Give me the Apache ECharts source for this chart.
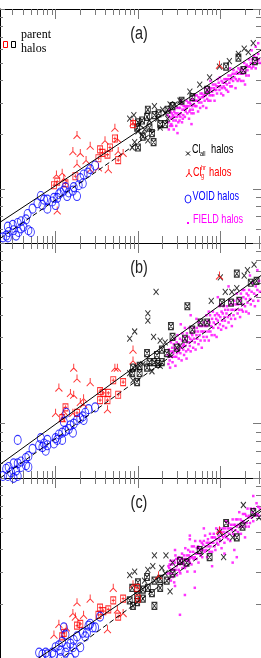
<!DOCTYPE html>
<html><head><meta charset="utf-8">
<script src="https://cdn.jsdelivr.net/npm/echarts@6/dist/echarts.min.js"></script>
<style>html,body{margin:0;padding:0;background:#fff;}#c{width:261px;height:658px;}</style>
</head><body><div id="c"></div>
<script>
// All values are log10 quantities: [log10 M, log10 V]
// ---------- panel (a) ----------
const voidA = [[11.48,2.13],[11.42,2.11],[11.39,2.09],[11.34,2.08],[11.30,2.06],[11.33,2.03],[11.28,2.02],[11.22,2.01],[11.21,1.99],[11.16,1.98],[11.12,2.01],[11.10,1.99],[11.06,1.98],[11.04,1.97],[11.02,1.95],[10.98,1.95],[10.96,1.93],[10.90,1.94],[10.86,1.94],[10.82,1.96],[10.84,1.91],[10.78,1.92],[10.90,1.89],[11.00,1.91],[11.26,1.96],[11.14,1.96],[10.72,1.89],[10.66,1.86],[10.64,1.83],[10.58,1.82],[10.54,1.81],[10.48,1.80],[10.42,1.79],[10.43,1.76],[10.40,1.74],[10.49,1.77],[10.58,1.78],[10.61,1.79],[10.70,1.76],[10.52,1.74],[10.42,1.73],[10.36,1.73],[10.55,1.76],[10.67,1.77]];
const grpA = [[11.72,2.34],[11.26,2.30],[11.42,2.24],[11.21,2.21],[11.30,2.20],[11.37,2.16],[11.26,2.14],[11.08,2.09],[11.01,2.08],[11.10,2.06],[11.42,2.11],[11.64,2.11],[11.52,2.12],[11.82,2.20],[11.76,2.21],[11.02,1.88],[11.60,2.27],[11.75,2.28],[11.94,2.37],[12.99,2.69]];
const pGrpA = [[11.72,2.28],[11.54,2.22],[11.57,2.20],[11.63,2.19],[11.76,2.16],[11.52,2.17],[11.12,2.03],[11.02,2.04],[11.24,2.07],[10.98,2.02],[11.94,2.36],[11.66,2.23]];
const clA = [[13.29,2.78],[13.34,2.76],[13.22,2.75],[12.99,2.68],[12.20,2.46],[12.30,2.44],[12.39,2.47],[11.90,2.39],[11.95,2.41],[11.93,2.23],[11.96,2.26],[12.02,2.36],[12.08,2.33],[12.14,2.38],[12.24,2.39],[12.33,2.42],[12.05,2.30],[12.12,2.27],[12.00,2.32],[12.27,2.34],[12.36,2.39],[12.45,2.47],[12.51,2.49],[12.63,2.54],[12.75,2.58],[12.87,2.62],[13.11,2.71],[13.40,2.81]];
const pClA = [[13.07,2.68],[13.22,2.73],[13.28,2.66],[13.42,2.71],[12.84,2.55],[12.66,2.51],[12.53,2.49],[12.42,2.46],[12.36,2.44],[12.25,2.42],[12.12,2.44],[12.11,2.40],[12.00,2.37],[12.33,2.36],[12.20,2.41],[11.99,2.34],[12.06,2.29],[12.19,2.26],[12.00,2.23],[12.17,2.31],[12.27,2.36],[12.05,2.38],[12.14,2.34]];
const fieldA = [[12.36,2.41],[12.37,2.37],[12.375,2.33],[12.38,2.40],[12.39,2.35],[12.395,2.43],[12.40,2.39],[12.41,2.42],[12.415,2.35],[12.42,2.40],[12.43,2.38],[12.435,2.33],[12.44,2.43],[12.45,2.40],[12.455,2.42],[12.46,2.38],[12.47,2.45],[12.475,2.40],[12.48,2.42],[12.49,2.37],[12.495,2.45],[12.50,2.41],[12.51,2.45],[12.515,2.40],[12.52,2.42],[12.53,2.47],[12.535,2.37],[12.54,2.44],[12.55,2.41],[12.555,2.46],[12.56,2.44],[12.57,2.40],[12.575,2.46],[12.58,2.43],[12.59,2.49],[12.595,2.46],[12.60,2.42],[12.61,2.48],[12.615,2.46],[12.62,2.39],[12.63,2.48],[12.635,2.44],[12.64,2.47],[12.65,2.42],[12.655,2.50],[12.66,2.46],[12.67,2.49],[12.675,2.42],[12.68,2.47],[12.69,2.52],[12.695,2.46],[12.70,2.49],[12.71,2.46],[12.715,2.52],[12.72,2.49],[12.73,2.43],[12.735,2.51],[12.74,2.48],[12.75,2.50],[12.755,2.45],[12.76,2.53],[12.77,2.48],[12.775,2.51],[12.78,2.53],[12.79,2.46],[12.795,2.51],[12.80,2.52],[12.81,2.49],[12.815,2.56],[12.82,2.52],[12.83,2.45],[12.835,2.54],[12.84,2.50],[12.85,2.54],[12.855,2.49],[12.86,2.56],[12.87,2.52],[12.875,2.55],[12.88,2.49],[12.89,2.56],[12.895,2.52],[12.90,2.54],[12.91,2.58],[12.915,2.52],[12.92,2.56],[12.93,2.49],[12.935,2.55],[12.94,2.58],[12.95,2.55],[12.955,2.57],[12.96,2.53],[12.97,2.61],[12.975,2.57],[12.98,2.59],[12.99,2.55],[12.995,2.62],[13.00,2.57],[13.01,2.53],[13.015,2.60],[13.02,2.56],[13.03,2.59],[13.035,2.52],[13.04,2.57],[13.05,2.61],[13.055,2.56],[13.06,2.59],[13.07,2.61],[13.075,2.55],[13.08,2.58],[13.09,2.61],[13.095,2.54],[13.10,2.63],[13.11,2.59],[13.115,2.61],[13.12,2.57],[13.13,2.63],[13.135,2.61],[13.14,2.57],[13.15,2.64],[13.155,2.60],[13.16,2.66],[13.17,2.62],[13.18,2.64],[13.185,2.56],[13.19,2.61],[13.20,2.65],[13.21,2.60],[13.215,2.64],[13.22,2.67],[13.23,2.61],[13.24,2.66],[13.245,2.64],[13.25,2.60],[13.26,2.67],[13.27,2.64],[13.275,2.66],[13.28,2.60],[13.29,2.70],[13.30,2.65],[13.31,2.68],[13.315,2.63],[13.32,2.69],[13.33,2.66],[13.34,2.68],[13.345,2.63],[13.35,2.72],[13.36,2.68],[13.37,2.70],[13.38,2.67],[13.39,2.72],[13.40,2.68],[13.41,2.74],[13.42,2.70],[13.43,2.67],[13.44,2.73],[13.45,2.71],[13.46,2.75],[13.47,2.72],[13.48,2.70],[13.43,2.79],[13.46,2.81],[13.38,2.77],[12.52,2.49],[12.88,2.60],[13.12,2.67],[12.48,2.31],[12.65,2.36],[13.30,2.58],[12.385,2.44],[12.405,2.36],[12.425,2.41],[12.465,2.35],[12.505,2.38],[12.545,2.39],[12.585,2.45],[12.625,2.43],[12.665,2.44]];
const solidA = [[10.325,1.814],[13.494,2.771]];
const dashedA = [[10.325,1.724],[13.494,2.732]];
// ---------- panel (b) ----------
const voidB = [[11.40,2.08],[11.48,2.09],[11.36,2.06],[11.33,2.04],[11.30,2.03],[11.26,2.02],[11.34,2.02],[11.22,2.00],[11.18,1.99],[11.16,1.97],[11.21,1.95],[11.12,1.96],[11.08,1.95],[11.04,1.94],[11.00,1.92],[11.02,1.91],[10.98,1.89],[11.08,1.91],[10.90,1.91],[10.86,1.89],[10.82,1.92],[10.80,1.88],[10.84,1.87],[10.90,1.88],[10.88,1.85],[10.54,1.91],[10.72,1.86],[10.67,1.82],[10.64,1.81],[10.58,1.79],[10.54,1.78],[10.49,1.78],[10.43,1.76],[10.40,1.75],[10.46,1.73],[10.42,1.71],[10.52,1.74],[10.58,1.76],[10.64,1.77],[10.67,1.76],[10.54,1.71],[10.36,1.71],[10.49,1.70],[11.13,2.06],[11.10,2.01]];
const grpB = [[12.99,2.82],[11.94,2.41],[11.75,2.31],[11.22,2.31],[11.26,2.25],[11.04,2.20],[11.18,2.17],[11.22,2.16],[11.42,2.23],[11.34,2.14],[11.72,2.31],[11.34,2.11],[11.21,2.06],[11.00,2.06],[11.08,2.03],[11.63,2.08],[11.30,2.12],[11.10,2.07],[11.94,2.35]];
const pGrpB = [[11.54,2.18],[11.58,2.17],[11.64,2.17],[11.54,2.13],[11.70,2.24],[11.82,2.23],[11.76,2.16],[11.12,2.09],[11.08,2.03],[11.26,2.06],[11.63,2.13]];
const clB = [[13.00,2.81],[13.29,2.82],[13.33,2.85],[13.06,2.73],[13.14,2.73],[13.20,2.75],[12.22,2.73],[12.12,2.61],[12.12,2.57],[11.96,2.51],[11.90,2.47],[12.19,2.48],[12.27,2.46],[12.33,2.45],[11.90,2.28],[11.94,2.24],[11.99,2.31],[12.06,2.33],[12.17,2.29],[12.27,2.32],[12.39,2.38],[12.51,2.43],[13.41,2.88],[12.89,2.68]];
const pClB = [[13.20,2.83],[13.37,2.78],[12.60,2.65],[12.40,2.54],[12.42,2.48],[13.13,2.67],[13.23,2.68],[13.02,2.67],[12.76,2.56],[12.84,2.56],[12.66,2.52],[12.57,2.47],[12.47,2.42],[12.35,2.39],[12.29,2.41],[12.23,2.38],[12.11,2.39],[12.14,2.34],[12.24,2.33],[12.02,2.32],[11.94,2.31],[11.93,2.28],[12.02,2.28],[12.11,2.31],[12.20,2.34],[11.99,2.23],[12.29,2.34],[13.44,2.79]];
const fieldB = [[12.36,2.38],[12.37,2.33],[12.375,2.41],[12.38,2.37],[12.39,2.31],[12.395,2.40],[12.40,2.45],[12.41,2.37],[12.415,2.42],[12.42,2.34],[12.43,2.39],[12.435,2.44],[12.44,2.37],[12.45,2.42],[12.455,2.32],[12.46,2.41],[12.47,2.45],[12.475,2.39],[12.48,2.49],[12.49,2.40],[12.495,2.36],[12.50,2.44],[12.51,2.47],[12.515,2.39],[12.52,2.42],[12.53,2.35],[12.535,2.46],[12.54,2.50],[12.55,2.41],[12.555,2.44],[12.56,2.38],[12.57,2.48],[12.575,2.43],[12.58,2.46],[12.59,2.36],[12.595,2.50],[12.60,2.45],[12.61,2.41],[12.615,2.48],[12.62,2.53],[12.63,2.43],[12.635,2.47],[12.64,2.40],[12.65,2.50],[12.655,2.46],[12.66,2.49],[12.67,2.42],[12.675,2.53],[12.68,2.47],[12.69,2.45],[12.695,2.51],[12.70,2.41],[12.71,2.49],[12.715,2.53],[12.72,2.47],[12.73,2.51],[12.735,2.44],[12.74,2.56],[12.75,2.49],[12.755,2.54],[12.76,2.46],[12.77,2.51],[12.775,2.42],[12.78,2.54],[12.79,2.51],[12.795,2.48],[12.80,2.56],[12.81,2.46],[12.815,2.54],[12.82,2.51],[12.83,2.60],[12.835,2.48],[12.84,2.54],[12.85,2.57],[12.855,2.51],[12.86,2.46],[12.87,2.56],[12.875,2.60],[12.88,2.51],[12.89,2.54],[12.895,2.49],[12.90,2.58],[12.91,2.62],[12.915,2.53],[12.92,2.56],[12.93,2.49],[12.935,2.60],[12.94,2.55],[12.95,2.58],[12.955,2.48],[12.96,2.61],[12.97,2.57],[12.975,2.53],[12.98,2.60],[12.99,2.65],[12.995,2.55],[13.00,2.59],[13.01,2.52],[13.015,2.62],[13.02,2.57],[13.03,2.61],[13.035,2.54],[13.04,2.65],[13.05,2.59],[13.055,2.57],[13.06,2.63],[13.07,2.53],[13.075,2.61],[13.08,2.65],[13.09,2.59],[13.095,2.63],[13.10,2.56],[13.11,2.68],[13.115,2.60],[13.12,2.66],[13.13,2.58],[13.135,2.63],[13.14,2.54],[13.15,2.66],[13.155,2.63],[13.16,2.60],[13.17,2.68],[13.18,2.58],[13.185,2.66],[13.19,2.63],[13.20,2.72],[13.21,2.61],[13.215,2.66],[13.22,2.69],[13.23,2.63],[13.24,2.59],[13.245,2.68],[13.25,2.72],[13.26,2.63],[13.27,2.66],[13.275,2.62],[13.28,2.70],[13.29,2.74],[13.30,2.65],[13.31,2.69],[13.315,2.62],[13.32,2.72],[13.33,2.67],[13.34,2.71],[13.345,2.61],[13.35,2.74],[13.36,2.69],[13.37,2.66],[13.38,2.73],[13.39,2.78],[13.40,2.68],[13.41,2.72],[13.42,2.65],[13.43,2.76],[13.44,2.71],[13.45,2.74],[13.46,2.68],[13.47,2.79],[13.48,2.73],[12.57,2.53],[12.71,2.58],[12.86,2.62],[13.00,2.66],[13.27,2.74],[12.45,2.47],[13.45,2.85],[12.64,2.60],[13.10,2.76],[13.36,2.82],[12.52,2.55],[12.97,2.70],[12.385,2.35],[12.425,2.40],[12.465,2.37],[12.505,2.41],[12.545,2.43],[12.585,2.40],[12.625,2.45]];
const solidB = [[10.325,1.774],[13.494,2.820]];
const dashedB = [[10.325,1.698],[13.494,2.728]];
// ---------- panel (c) ----------
const voidC = [[11.40,2.18],[11.45,2.17],[11.48,2.17],[11.33,2.14],[11.36,2.12],[11.26,2.12],[11.22,2.10],[11.18,2.08],[11.21,2.06],[11.14,2.06],[11.12,2.13],[11.08,2.09],[11.04,2.07],[11.00,2.06],[11.06,2.04],[10.96,2.03],[10.90,2.02],[10.84,2.02],[10.98,2.02],[11.12,2.03],[11.24,2.03],[11.30,2.06],[10.80,2.03],[10.88,2.03],[11.38,2.14],[11.54,2.23],[11.42,2.19],[11.10,2.17],[11.06,2.00],[11.18,2.00],[10.94,1.99]];
const grpC = [[12.99,2.71],[12.25,2.46],[11.70,2.39],[11.42,2.33],[11.26,2.31],[11.21,2.25],[11.34,2.24],[11.24,2.23],[11.04,2.19],[10.98,2.13],[11.63,2.16],[11.82,2.25],[11.75,2.27],[11.94,2.41],[11.13,2.17]];
const pGrpC = [[11.70,2.32],[11.82,2.33],[11.54,2.28],[11.58,2.26],[11.52,2.24],[11.64,2.27],[11.76,2.23],[11.26,2.18],[11.10,2.14],[11.08,2.12],[11.30,2.19],[11.99,2.39],[12.00,2.33]];
const clC = [[13.28,2.85],[12.99,2.70],[13.15,2.67],[13.04,2.56],[12.20,2.57],[12.34,2.57],[12.18,2.51],[11.90,2.46],[11.96,2.48],[12.29,2.50],[12.39,2.37],[12.42,2.53],[12.33,2.47],[12.12,2.49],[13.47,2.78],[12.02,2.38],[12.08,2.43]];
const pClC = [[13.40,2.81],[13.27,2.73],[13.07,2.75],[13.20,2.67],[12.87,2.56],[12.75,2.60],[12.59,2.53],[12.51,2.54],[12.42,2.47],[12.35,2.43],[12.27,2.39],[12.20,2.43],[12.11,2.45],[12.06,2.38],[11.99,2.35],[11.99,2.31],[11.93,2.39],[12.06,2.33],[12.20,2.29],[12.12,2.39],[12.17,2.36],[11.90,2.32],[11.94,2.29],[12.00,2.42],[12.27,2.44]];
const fieldC = [[12.36,2.47],[12.37,2.51],[12.375,2.44],[12.38,2.50],[12.39,2.47],[12.395,2.54],[12.40,2.43],[12.41,2.49],[12.415,2.52],[12.42,2.47],[12.43,2.54],[12.435,2.49],[12.44,2.42],[12.45,2.53],[12.455,2.57],[12.46,2.49],[12.47,2.51],[12.475,2.46],[12.48,2.55],[12.49,2.53],[12.495,2.49],[12.50,2.56],[12.51,2.52],[12.515,2.47],[12.52,2.55],[12.53,2.53],[12.535,2.58],[12.54,2.50],[12.55,2.55],[12.555,2.52],[12.56,2.57],[12.57,2.50],[12.575,2.61],[12.58,2.55],[12.59,2.54],[12.595,2.57],[12.60,2.48],[12.61,2.60],[12.615,2.54],[12.62,2.57],[12.63,2.53],[12.635,2.59],[12.64,2.56],[12.65,2.52],[12.655,2.62],[12.66,2.56],[12.67,2.59],[12.675,2.55],[12.68,2.62],[12.69,2.56],[12.695,2.65],[12.70,2.58],[12.71,2.55],[12.715,2.61],[12.72,2.58],[12.73,2.62],[12.735,2.53],[12.74,2.61],[12.75,2.58],[12.755,2.65],[12.76,2.57],[12.77,2.60],[12.775,2.64],[12.78,2.56],[12.79,2.63],[12.795,2.60],[12.80,2.65],[12.81,2.59],[12.815,2.68],[12.82,2.62],[12.83,2.60],[12.835,2.64],[12.84,2.56],[12.85,2.66],[12.855,2.62],[12.86,2.64],[12.87,2.59],[12.875,2.69],[12.88,2.62],[12.89,2.64],[12.895,2.67],[12.90,2.59],[12.91,2.67],[12.915,2.64],[12.92,2.69],[12.93,2.62],[12.935,2.67],[12.94,2.60],[12.95,2.72],[12.955,2.66],[12.96,2.64],[12.97,2.70],[12.975,2.63],[12.98,2.68],[12.99,2.66],[12.995,2.72],[13.00,2.65],[13.01,2.70],[13.015,2.61],[13.02,2.68],[13.03,2.72],[13.035,2.67],[13.04,2.70],[13.05,2.64],[13.055,2.72],[13.06,2.68],[13.07,2.76],[13.075,2.67],[13.08,2.70],[13.09,2.72],[13.095,2.66],[13.10,2.75],[13.11,2.69],[13.115,2.72],[13.12,2.65],[13.13,2.74],[13.135,2.72],[13.14,2.71],[13.15,2.77],[13.155,2.69],[13.16,2.74],[13.17,2.68],[13.18,2.74],[13.185,2.71],[13.19,2.77],[13.20,2.73],[13.21,2.77],[13.215,2.70],[13.22,2.74],[13.23,2.81],[13.24,2.73],[13.245,2.77],[13.25,2.69],[13.26,2.76],[13.27,2.73],[13.275,2.80],[13.28,2.76],[13.29,2.75],[13.30,2.80],[13.31,2.73],[13.315,2.79],[13.32,2.75],[13.33,2.83],[13.34,2.78],[13.345,2.73],[13.35,2.79],[13.36,2.75],[13.37,2.83],[13.38,2.78],[13.39,2.81],[13.40,2.76],[13.41,2.83],[13.42,2.80],[13.43,2.79],[13.44,2.86],[13.45,2.80],[13.46,2.84],[13.47,2.79],[13.48,2.83],[12.57,2.35],[12.69,2.48],[13.17,2.60],[12.63,2.68],[13.20,2.56],[12.45,2.40],[12.90,2.51],[13.40,2.90],[12.51,2.24],[12.69,2.39],[13.15,2.53],[12.63,2.66],[12.45,2.60],[13.30,2.67],[12.80,2.72],[13.05,2.58],[12.385,2.52],[12.425,2.45],[12.465,2.55],[12.505,2.48],[12.545,2.53],[12.585,2.51],[12.625,2.55]];
const solidC = [[10.325,1.856],[13.494,2.826]];
const dashedC = [[10.325,1.748],[13.494,2.815]];

// ---------- ticks (log10 positions) ----------
const xMajor = [11, 12, 13];
const yMajor = [2, 3];
const mult = [2,3,4,5,6,7,8,9];
const xMinor = [], yMinor = [];
[10,11,12,13].forEach(d => mult.forEach(k => { const v = d + Math.log10(k); if (v > 10.325 && v < 13.494) xMinor.push(v); }));
[1,2].forEach(d => mult.forEach(k => { const v = d + Math.log10(k); if (v >= Math.log10(50) - 1e-9 && v < 3) yMinor.push(v); }));

const labels = ['(a)', '(b)', '(c)'];
const panels = [
  {field: fieldA, cl: clA, pcl: pClA, grp: grpA, pgrp: pGrpA, vd: voidA, solid: solidA, dashed: dashedA},
  {field: fieldB, cl: clB, pcl: pClB, grp: grpB, pgrp: pGrpB, vd: voidB, solid: solidB, dashed: dashedB},
  {field: fieldC, cl: clC, pcl: pClC, grp: grpC, pgrp: pGrpC, vd: voidC, solid: solidC, dashed: dashedC}
];
// panel (c) is cut by the page bottom at V = 100 km/s
const tops = [9, 243, 478];
const heights = [234, 235, 180];
const yMins = [Math.log10(50), Math.log10(50), 2];
const showBottom = [true, true, false];

const TICK = '#7a7a7a';
const X_MIN = 10.325, X_MAX = 13.494, Y_MAX = 3;
const grids = [], xAxes = [], yAxes = [], series = [];
const SYM_X = 'path://M0,0L10,12M10,0L0,12';
const SYM_SQ = 'path://M0,0H10V14H0ZM0,0L10,14M10,0L0,14';
const SYM_RSQ = 'path://M0,0H10V14H0ZM5,3V11M2,7H8';
const SYM_TRI = 'path://M5,0L5,6M5,6L0,11M5,6L10,11';
const SYM_O = 'path://M0,10A6,10 0 1,1 12,10A6,10 0 1,1 0,10Z';

function ax(i, pos, isX, len, vals, line, show) {
  return {
    gridIndex: i, type: 'value', position: pos, show: show !== false,
    min: isX ? X_MIN : yMins[i], max: isX ? X_MAX : Y_MAX,
    axisLine: {show: line, onZero: false, lineStyle: {color: '#000', width: 1}},
    axisTick: {show: true, inside: true, length: len, customValues: vals.filter(v => isX || v >= yMins[i] - 1e-9), lineStyle: {color: TICK, width: 1}},
    axisLabel: {show: false}, splitLine: {show: false}
  };
}
function sc(i, data, sym, size, color, border) {
  return {
    type: 'scatter', xAxisIndex: 4 * i, yAxisIndex: 4 * i, data: data, symbol: sym, symbolSize: size,
    silent: true, animation: false,
    itemStyle: border ? {color: 'rgba(0,0,0,0)', borderColor: color, borderWidth: 1} : {color: color}
  };
}
panels.forEach((p, i) => {
  grids.push({left: -1, top: tops[i], width: 263, height: heights[i]});
  xAxes.push(ax(i, 'bottom', true, 12, xMajor, true, showBottom[i]));
  xAxes.push(ax(i, 'bottom', true, 7, xMinor, false, showBottom[i]));
  xAxes.push(ax(i, 'top', true, 10, xMajor, true));
  xAxes.push(ax(i, 'top', true, 6, xMinor, false));
  yAxes.push(ax(i, 'left', false, 5, yMajor, true));
  yAxes.push(ax(i, 'left', false, 3, yMinor, false));
  yAxes.push(ax(i, 'right', false, 8, yMajor, true));
  yAxes.push(ax(i, 'right', false, 5, yMinor, false));
  series.push(sc(i, p.field, 'rect', 2.5, '#ff00ff', false));
  series.push(sc(i, p.cl, SYM_X, [5, 6], '#000', true));
  series.push(sc(i, p.pcl, SYM_SQ, [5, 7], '#000', true));
  series.push(sc(i, p.grp, SYM_TRI, [7, 8], '#ff0000', true));
  series.push(sc(i, p.pgrp, SYM_RSQ, [5, 7], '#ff0000', true));
  series.push(sc(i, p.vd, SYM_O, [7, 9], '#0000ff', true));
  series.push({type: 'line', xAxisIndex: 4 * i, yAxisIndex: 4 * i, data: p.solid, showSymbol: false, silent: true, animation: false, lineStyle: {color: '#000', width: 1}});
  series.push({type: 'line', xAxisIndex: 4 * i, yAxisIndex: 4 * i, data: p.dashed, showSymbol: false, silent: true, animation: false, lineStyle: {color: '#000', width: 1, type: [5, 3]}});
});

function txt(x, y, s, size, color, family, sx, align) {
  return {type: 'text', x: x, y: y, scaleX: sx, silent: true,
    style: {text: s, x: 0, y: 0, fill: color, font: size + 'px ' + family, textAlign: align || 'left', align: align || 'left', textVerticalAlign: 'middle', verticalAlign: 'middle'}};
}
const SANS = '"Liberation Sans"', SERIF = '"Liberation Serif"';
const graphics = [];
labels.forEach((l, i) => graphics.push(txt(139, tops[i] + 25, l, 18, '#222', SANS, 0.8, 'center')));
// parent halos legend
graphics.push({type: 'rect', silent: true, shape: {x: 3.5, y: 41.5, width: 4, height: 6}, style: {fill: 'none', stroke: '#ff0000', lineWidth: 1}});
graphics.push({type: 'rect', silent: true, shape: {x: 11.5, y: 41.5, width: 4, height: 6}, style: {fill: 'none', stroke: '#000', lineWidth: 1}});
graphics.push(txt(21, 35, 'parent', 12, '#000', SERIF, 1));
graphics.push(txt(21, 49, 'halos', 12, '#000', SERIF, 1));
// right legend
graphics.push({type: 'polyline', silent: true, shape: {points: [[186, 151.5], [190, 155.5]]}, style: {stroke: '#000', lineWidth: 1, fill: 'none'}});
graphics.push({type: 'polyline', silent: true, shape: {points: [[190, 151.5], [186, 155.5]]}, style: {stroke: '#000', lineWidth: 1, fill: 'none'}});
graphics.push(txt(192, 149.5, 'Cl', 13, '#000', SANS, 0.7));
graphics.push(txt(200, 154, 'all', 7, '#000', SANS, 0.8));
graphics.push(txt(211, 149.5, 'halos', 13, '#000', SANS, 0.72));
graphics.push({type: 'polyline', silent: true, shape: {points: [[189, 169], [189, 173], [186, 177]]}, style: {stroke: '#ff0000', lineWidth: 1, fill: 'none'}});
graphics.push({type: 'polyline', silent: true, shape: {points: [[189, 173], [192, 177]]}, style: {stroke: '#ff0000', lineWidth: 1, fill: 'none'}});
graphics.push(txt(193, 172.5, 'Cl', 13, '#ff0000', SANS, 0.7));
graphics.push(txt(201, 168.5, 'hr', 7, '#ff0000', SANS, 0.8));
graphics.push(txt(201, 176, 'g', 7, '#ff0000', SANS, 0.8));
graphics.push(txt(209, 172.5, 'halos', 13, '#ff0000', SANS, 0.72));
graphics.push({type: 'circle', x: 188, y: 199, scaleX: 0.75, silent: true, shape: {cx: 0, cy: 0, r: 4}, style: {fill: 'none', stroke: '#0000ff', lineWidth: 1, strokeNoScale: true}});
graphics.push(txt(192.5, 196, 'VOID halos', 13, '#0000ff', SANS, 0.7));
graphics.push({type: 'rect', silent: true, shape: {x: 187, y: 222, width: 2, height: 2}, style: {fill: '#ff00ff'}});
graphics.push(txt(193, 219, 'FIELD halos', 13, '#ff00ff', SANS, 0.7));

const chart = echarts.init(document.getElementById('c'), null, {renderer: 'canvas'});
chart.setOption({
  animation: false,
  backgroundColor: '#fff',
  grid: grids, xAxis: xAxes, yAxis: yAxes, series: series, graphic: {elements: graphics}
});
</script></body></html>
